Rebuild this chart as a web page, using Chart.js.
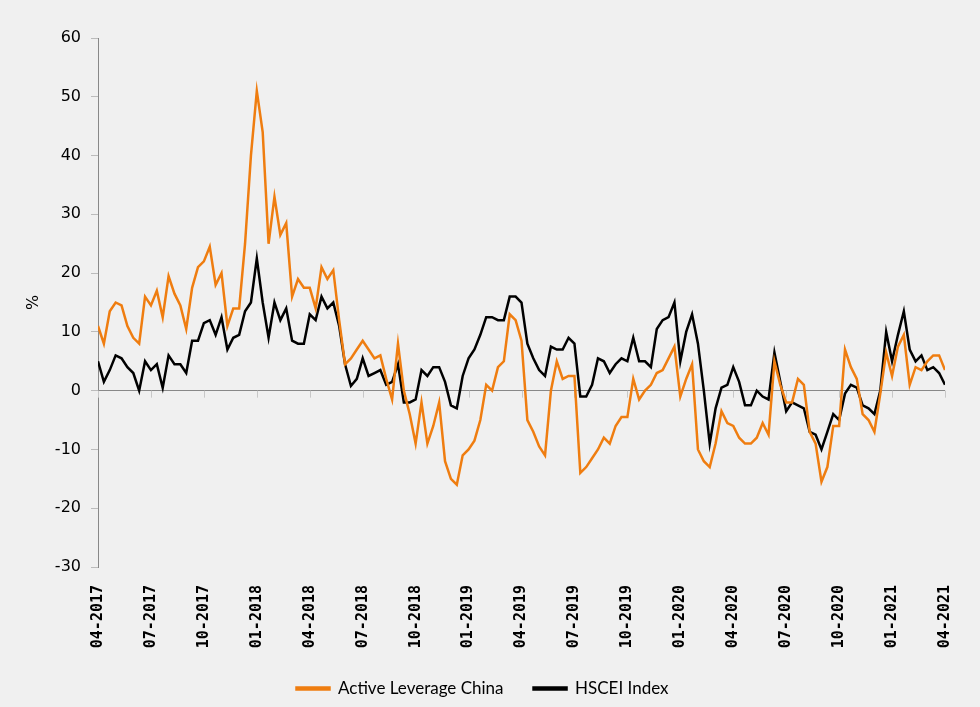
<!DOCTYPE html>
<html>
<head>
<meta charset="utf-8">
<script src="https://cdn.jsdelivr.net/npm/chart.js@4.4.1/dist/chart.umd.min.js"></script>
<style>
  html, body { margin: 0; padding: 0; background: #f0f0f0; }
  #wrap { width: 980px; height: 707px; }
</style>
</head>
<body>
<div id="wrap"><canvas id="chart" width="980" height="707"></canvas></div>
<script>
// quarter labels on the x axis, 3 readings per month between them
const quarterLabels = ['04-2017', '07-2017', '10-2017', '01-2018', '04-2018', '07-2018', '10-2018', '01-2019',
    '04-2019', '07-2019', '10-2019', '01-2020', '04-2020', '07-2020', '10-2020', '01-2021', '04-2021'];
const stepsPerQuarter = 9;

const activeLeverageChina = [
    11, 8, 13.5, 15, 14.5, 11, 9, 8, 16, 14.5, 17, 12.5, 19.5, 16.5, 14.5, 10.5, 17.5, 21, 22, 24.5, 18, 20, 11, 14, 14,
    25, 40, 51, 44, 25, 33, 26.5, 28.5, 16, 19, 17.5, 17.5, 14, 21, 19, 20.5, 12, 4.5, 5.5, 7, 8.5, 7, 5.5,
    6, 2, -1.5, 8, 0, -4, -9, -2, -9, -6, -2, -12, -15, -16, -11, -10, -8.5, -5, 1, 0, 4, 5, 13, 12,
    8.5, -5, -7, -9.5, -11, 0, 5, 2, 2.5, 2.5, -14, -13, -11.5, -10, -8, -9, -6, -4.5, -4.5, 2, -1.5, 0, 1, 3,
    3.5, 5.5, 7.5, -1, 2, 4.5, -10, -12, -13, -9, -3.5, -5.5, -6, -8, -9, -9, -8, -5.5, -7.5, 5, 1, -2, -2, 2,
    1, -7, -9, -15.5, -13, -6, -6, 7, 4, 2, -4, -5, -7, -0.5, 6.5, 2.5, 7.5, 9.5, 1, 4, 3.5, 5, 6, 6, 3.5
];

const hsceiIndex = [
    5, 1.5, 3.5, 6, 5.5, 4, 3, 0, 5, 3.5, 4.5, 0.5, 6, 4.5, 4.5, 3, 8.5, 8.5, 11.5, 12, 9.5, 12.5, 7, 9, 9.5,
    13.5, 15, 22.5, 15, 9, 15, 12, 14, 8.5, 8, 8, 13, 12, 16, 14, 15, 11, 4.5, 0.8, 2, 5.5, 2.5, 3,
    3.5, 1, 1.5, 4.5, -2, -2, -1.5, 3.5, 2.5, 4, 4, 1.5, -2.5, -3, 2.5, 5.5, 7, 9.5, 12.5, 12.5, 12, 12, 16, 16,
    15, 8, 5.5, 3.5, 2.5, 7.5, 7, 7, 9, 8, -1, -1, 1, 5.5, 5, 3, 4.5, 5.5, 5, 9, 5, 5, 4, 10.5,
    12, 12.5, 15, 5, 10, 13, 8, 0, -9, -3, 0.5, 1, 4, 1.5, -2.5, -2.5, 0, -1, -1.5, 6.5, 1.5, -3.5, -2, -2.5,
    -3, -7, -7.5, -10, -7, -4, -5, -0.5, 1, 0.5, -2.5, -3, -4, 0, 10, 5, 9.5, 13.5, 7, 5, 6, 3.5, 4, 3, 1
];

const yMin = -30;
const yMax = 60;
const yStep = 10;

const orange = '#ef7d10';
const black = '#000000';

function toPoints(values) {
    return values.map((v, i) => ({ x: i, y: v }));
}

// small tick marks hanging under the zero line at each quarter
const zeroTicks = {
    id: 'zeroTicks',
    beforeDatasetsDraw(chart) {
        const xs = chart.scales.x;
        const y0 = chart.scales.y.getPixelForValue(0);
        const ctx = chart.ctx;
        ctx.save();
        ctx.strokeStyle = '#c8c8c8';
        ctx.lineWidth = 1;
        quarterLabels.forEach((q, k) => {
            const px = Math.round(xs.getPixelForValue(k * stepsPerQuarter)) + 0.5;
            ctx.beginPath();
            ctx.moveTo(px, y0);
            ctx.lineTo(px, y0 + 7);
            ctx.stroke();
        });
        ctx.restore();
    }
};

new Chart(document.getElementById('chart').getContext('2d'), {
    type: 'line',
    data: {
        datasets: [
            {
                label: 'Active Leverage China',
                data: toPoints(activeLeverageChina),
                borderColor: orange,
                backgroundColor: orange,
                borderWidth: 2.5,
                pointRadius: 0,
                tension: 0
            },
            {
                label: 'HSCEI Index',
                data: toPoints(hsceiIndex),
                borderColor: black,
                backgroundColor: black,
                borderWidth: 2.5,
                pointRadius: 0,
                tension: 0
            }
        ]
    },
    options: {
        responsive: false,
        animation: false,
        layout: { padding: { left: 20, right: 35, top: 38, bottom: 0 } },
        scales: {
            x: {
                type: 'linear',
                min: 0,
                max: (quarterLabels.length - 1) * stepsPerQuarter,
                border: { display: false },
                grid: { display: false },
                ticks: {
                    stepSize: stepsPerQuarter,
                    autoSkip: false,
                    minRotation: 90,
                    maxRotation: 90,
                    padding: 10,
                    color: '#000',
                    font: { family: 'DejaVu Sans Mono', size: 15, weight: 'bold' },
                    callback: v => quarterLabels[v / stepsPerQuarter]
                },
                afterFit: s => { s.height = 83; }
            },
            y: {
                min: yMin,
                max: yMax,
                border: { display: true, color: '#888', width: 1 },
                grid: {
                    drawOnChartArea: true,
                    color: c => (c.tick && c.tick.value === 0 ? '#888' : 'rgba(0,0,0,0)'),
                    tickColor: '#bbb',
                    tickLength: 7
                },
                ticks: {
                    stepSize: yStep,
                    padding: 10,
                    color: '#000',
                    font: { family: 'DejaVu Sans', size: 16 }
                },
                title: {
                    display: true,
                    text: '%',
                    color: '#000',
                    padding: 4,
                    font: { family: 'DejaVu Sans', size: 16 }
                },
                afterFit: s => { s.width = 78; }
            }
        },
        plugins: {
            legend: {
                position: 'bottom',
                labels: {
                    boxWidth: 33,
                    boxHeight: 2,
                    padding: 30,
                    color: '#000',
                    font: { family: 'Lato', size: 17 }
                }
            },
            tooltip: { enabled: false }
        }
    },
    plugins: [zeroTicks]
});
</script>
</body>
</html>
